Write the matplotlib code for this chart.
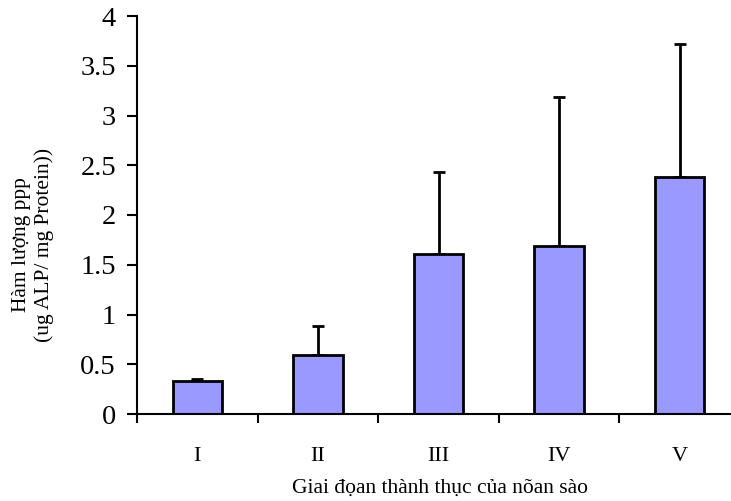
import matplotlib
matplotlib.use("Agg")
import matplotlib.pyplot as plt
import numpy as np

# data
stages = ["I", "II", "III", "IV", "V"]
means = [0.33, 0.59, 1.61, 1.69, 2.38]
errs_up = [0.02, 0.29, 0.82, 1.50, 1.34]
y_ticks = [0, 0.5, 1, 1.5, 2, 2.5, 3, 3.5, 4]
y_tick_labels = ["0", "0.5", "1", "1.5", "2", "2.5", "3", "3.5", "4"]

plt.rcParams['font.family'] = ['Liberation Serif', 'DejaVu Serif']

fig = plt.figure(figsize=(7.31, 5.01), dpi=100)
ax = fig.add_axes([137/731, 87/501, 603/731, 398/501])

x = np.arange(len(stages))
ax.bar(x, means, width=0.41, color="#9999FF", edgecolor="black", linewidth=2,
       zorder=2)
ax.errorbar(x, means, yerr=[np.zeros(len(errs_up)), errs_up], fmt="none",
            ecolor="black", elinewidth=2, capsize=4, capthick=2, zorder=1)

ax.set_xlim(-0.5, len(stages) - 0.5)
ax.set_ylim(0, 4)
ax.set_yticks(y_ticks)
ax.set_yticklabels(y_tick_labels, fontsize=20.5)
ax.tick_params(axis="y", direction="out", length=7.2, width=1.5, pad=8)

ax.set_xticks(x)
ax.set_xticklabels(stages, fontsize=16)
ax.tick_params(axis="x", which="major", length=0, pad=24)
ax.set_xticks(np.arange(-0.5, len(stages), 1.0), minor=True)
ax.tick_params(axis="x", which="minor", direction="out", length=6.5, width=1.5)

for s in ["top", "right"]:
    ax.spines[s].set_visible(False)
for s in ["left", "bottom"]:
    ax.spines[s].set_linewidth(1.5)

fig.text(33/731, 1 - 245/501, "Hàm lượng ppp\n(ug ALP/ mg Protein))",
         rotation=90, ha="center", va="center", fontsize=15.5, linespacing=1.2)
fig.text(440/731, 1 - 488/501, "Giai đọan thành thục của nõan sào",
         ha="center", va="center", fontsize=15.5)

fig.savefig("out.png", dpi=100)
